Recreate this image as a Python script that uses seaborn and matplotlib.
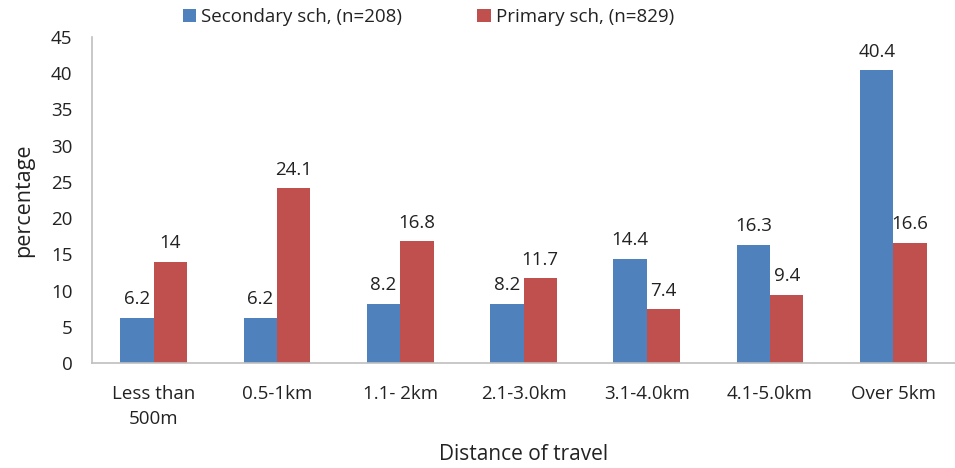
import matplotlib
matplotlib.use("Agg")
import matplotlib.pyplot as plt
import seaborn as sns
import pandas as pd

categories = ["Less than\n500m", "0.5-1km", "1.1- 2km", "2.1-3.0km", "3.1-4.0km", "4.1-5.0km", "Over 5km"]
secondary = [6.2, 6.2, 8.2, 8.2, 14.4, 16.3, 40.4]
primary = [14, 24.1, 16.8, 11.7, 7.4, 9.4, 16.6]
series_names = ["Secondary sch, (n=208)", "Primary sch, (n=829)"]
value_labels_secondary = ["6.2", "6.2", "8.2", "8.2", "14.4", "16.3", "40.4"]
value_labels_primary = ["14", "24.1", "16.8", "11.7", "7.4", "9.4", "16.6"]

df = pd.DataFrame({
    "category": categories * 2,
    "value": secondary + primary,
    "series": [series_names[0]] * len(categories) + [series_names[1]] * len(categories),
})

sns.set_theme(style="white")
plt.rcParams["font.family"] = ["Open Sans", "DejaVu Sans"]

fig = plt.figure(figsize=(9.55, 4.68), dpi=100)
ax = fig.add_axes([92 / 955, 1 - 363 / 468, (955 - 92) / 955, (363 - 37) / 468])

palette = {series_names[0]: "#4F81BD", series_names[1]: "#C0504D"}
sns.barplot(data=df, x="category", y="value", hue="series", palette=palette,
            width=0.54, saturation=1, ax=ax, order=categories, hue_order=series_names,
            linewidth=0, edgecolor="none")

for cont, labels in zip(ax.containers, [value_labels_secondary, value_labels_primary]):
    ax.bar_label(cont, labels=labels, padding=7, fontsize=13.5, color="#222222")

ax.set_ylim(0, 45)
ax.set_yticks(range(0, 46, 5))
ax.set_xlim(-0.5, len(categories) - 0.5)
ax.tick_params(axis="both", length=0, labelsize=13.5, colors="#222222")
ax.tick_params(axis="x", pad=16)
ax.tick_params(axis="y", pad=14)
for lbl in ax.get_xticklabels():
    lbl.set_linespacing(1.45)
ax.set_ylabel("percentage", fontsize=15.5, color="#222222", labelpad=12)
ax.set_xlabel("Distance of travel", fontsize=15, color="#222222", labelpad=12)

for side in ["top", "right"]:
    ax.spines[side].set_visible(False)
for side in ["left", "bottom"]:
    ax.spines[side].set_color("#BFBFBF")
    ax.spines[side].set_linewidth(1.2)

leg = ax.legend(loc="upper center", bbox_to_anchor=(0.39, 1.14), ncol=2, frameon=False,
                fontsize=13.5, handlelength=0.7, handleheight=0.7, columnspacing=4.0,
                handletextpad=0.3)
for t in leg.get_texts():
    t.set_color("#222222")

fig.savefig("out.png", dpi=100)
